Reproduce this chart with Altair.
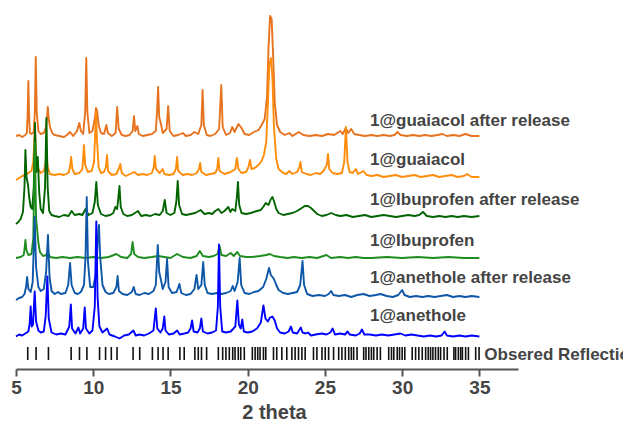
import altair as alt
import pandas as pd

# ---- trace names, colours and vertical offsets (intensity units) ----
TRACES = ["1@guaiacol after release", "1@guaiacol", "1@Ibuprofen after release",
          "1@Ibuprofen", "1@anethole after release", "1@anethole"]
COLORS = ["#E8731F", "#FF8C0A", "#006400", "#1E8C1E", "#0D56A8", "#0000FF"]
OFFSETS = [232, 192, 152, 111, 72, 32.5]

# ---- diffractograms: (2theta, intensity above own baseline) ----
GUAIACOL_AFTER = [
    (5.0,1),(5.2,2),(5.4,0),(5.6,2),(5.7,4),(5.75,20),(5.8,56),(5.85,20),(5.9,4),(6.0,3),(6.15,5),
    (6.22,25),(6.28,80),(6.34,25),(6.45,6),(6.6,3),(6.8,4),(6.95,10),(7.06,30),(7.12,18),(7.2,10),
    (7.35,4),(7.5,2),(7.8,1),(8.1,0),(8.3,2),(8.5,5),(8.7,1),(8.95,6),(9.1,14),(9.2,6),(9.35,3),
    (9.48,25),(9.55,79),(9.62,25),(9.75,4),(9.95,6),(10.1,18),(10.18,29),(10.25,26),(10.35,12),
    (10.5,4),(10.7,3),(10.85,12),(10.95,4),(11.2,1),(11.45,4),(11.55,30),(11.65,8),(11.85,2),
    (12.1,1),(12.35,2),(12.55,6),(12.64,21),(12.72,6),(12.86,11),(12.95,3),(13.2,1),(13.5,2),
    (13.8,3),(14.05,6),(14.13,25),(14.2,50),(14.27,20),(14.4,12),(14.5,4),(14.75,8),(14.85,31),
    (14.95,6),(15.2,1),(15.5,2),(15.8,4),(16.0,1),(16.3,2),(16.56,5),(16.8,3),(17.0,12),(17.08,47),
    (17.16,12),(17.35,2),(17.6,1),(17.9,3),(18.15,8),(18.29,52),(18.38,10),(18.6,2),(18.85,4),
    (19.0,10),(19.15,5),(19.4,13),(19.6,9),(19.8,3),(20.1,2),(20.4,5),(20.7,7),(20.9,12),(21.1,18),
    (21.25,40),(21.35,90),(21.45,121),(21.55,118),(21.65,80),(21.75,35),(21.9,12),(22.1,5),(22.4,2),
    (22.7,4),(22.9,1),(23.3,5),(23.6,2),(24.0,1),(24.4,2),(24.8,1),(25.2,3),(25.6,2),(25.9,5),
    (26.0,6),(26.15,3),(26.35,9),(26.5,4),(26.7,8),(26.9,3),(27.2,2),(27.6,1),(28.0,2),(28.4,1),
    (28.8,2),(29.2,1),(29.5,2),(29.7,5),(29.9,2),(30.3,1),(30.7,2),(31.1,1),(31.5,2),(31.9,1),
    (32.3,2),(32.6,3),(32.9,1),(33.3,2),(33.7,1),(34.1,3),(34.5,1),(35.0,1)]

GUAIACOL = [
    (5.0,-3),(5.2,-1),(5.4,1),(5.6,2),(5.8,4),(6.0,6),(6.12,15),(6.22,47),(6.3,20),(6.45,8),(6.6,4),
    (6.8,6),(6.9,12),(6.97,22),(7.05,10),(7.2,3),(7.5,2),(7.8,3),(8.1,2),(8.4,4),(8.5,10),(8.57,20),
    (8.65,8),(8.8,3),(9.1,4),(9.3,8),(9.4,32),(9.48,12),(9.65,5),(9.9,6),(10.05,15),(10.12,40),
    (10.18,65),(10.25,35),(10.35,10),(10.5,4),(10.7,5),(10.82,10),(10.89,22),(10.96,6),(11.2,2),
    (11.5,3),(11.7,10),(11.75,13),(11.85,4),(12.1,1),(12.4,3),(12.65,5),(12.9,2),(13.2,3),(13.5,2),
    (13.8,4),(13.92,10),(13.98,21),(14.06,8),(14.3,4),(14.5,8),(14.6,3),(14.9,2),(15.2,3),(15.35,8),
    (15.43,20),(15.5,6),(15.8,2),(16.1,3),(16.4,2),(16.7,4),(16.85,8),(16.92,14),(17.0,5),(17.3,2),
    (17.6,3),(17.9,4),(18.02,8),(18.1,19),(18.18,6),(18.5,3),(18.9,5),(19.2,8),(19.3,19),(19.4,8),
    (19.6,4),(19.9,5),(20.05,10),(20.15,17),(20.25,8),(20.45,9),(20.7,12),(20.9,16),(21.05,22),
    (21.2,35),(21.3,70),(21.4,112),(21.5,119),(21.6,100),(21.7,50),(21.85,18),(22.0,8),(22.3,4),
    (22.5,3),(22.7,6),(22.9,3),(23.2,5),(23.35,10),(23.42,15),(23.5,5),(23.8,3),(24.1,2),(24.4,4),
    (24.7,3),(24.9,6),(25.12,12),(25.2,23),(25.28,8),(25.5,4),(25.8,3),(26.1,4),(26.25,15),
    (26.36,50),(26.46,15),(26.6,5),(26.8,4),(27.0,8),(27.15,3),(27.5,6),(27.7,2),(28.0,1),(28.4,2),
    (28.8,0),(29.2,1),(29.6,2),(30.0,0),(30.4,1),(30.8,2),(31.2,0),(31.6,1),(32.0,2),(32.4,0),
    (32.8,1),(33.2,2),(33.6,0),(34.0,1),(34.2,3),(34.5,0),(35.0,0)]

IBUPROFEN_AFTER = [
    (5.0,-7),(5.15,-5),(5.3,-2),(5.45,5),(5.55,30),(5.61,67),(5.68,40),(5.78,32),(5.85,20),(5.95,10),
    (6.05,8),(6.15,30),(6.23,94),(6.31,45),(6.41,60),(6.5,25),(6.6,8),(6.75,4),(6.88,30),(6.97,99),
    (7.05,30),(7.15,6),(7.3,2),(7.5,1),(7.8,0),(8.1,2),(8.4,1),(8.6,6),(8.8,2),(9.1,3),(9.3,2),
    (9.5,8),(9.7,2),(9.95,4),(10.1,15),(10.2,35),(10.3,12),(10.5,3),(10.8,1),(11.1,2),(11.3,4),
    (11.43,10),(11.55,8),(11.63,20),(11.7,31),(11.78,10),(11.95,3),(12.2,1),(12.5,2),(12.9,6),
    (13.1,1),(13.4,2),(13.7,1),(14.0,3),(14.3,2),(14.5,6),(14.63,17),(14.75,4),(15.0,2),(15.25,4),
    (15.38,15),(15.47,36),(15.56,12),(15.75,3),(16.0,2),(16.3,3),(16.6,4),(16.95,7),(17.2,3),
    (17.5,4),(17.7,3),(17.9,6),(18.1,8),(18.3,4),(18.5,6),(18.75,10),(18.88,5),(19.0,8),(19.2,6),
    (19.3,20),(19.37,35),(19.45,12),(19.6,4),(19.9,3),(20.2,4),(20.6,6),(20.85,7),(21.0,10),
    (21.17,14),(21.35,12),(21.5,18),(21.6,20),(21.7,16),(21.85,8),(22.0,4),(22.3,2),(22.6,3),
    (22.9,4),(23.2,6),(23.5,9),(23.7,11),(23.9,11),(24.1,9),(24.3,6),(24.5,3),(24.8,1),(25.1,2),
    (25.4,4),(25.7,2),(26.0,1),(26.4,2),(26.8,0),(27.2,1),(27.6,2),(28.0,0),(28.4,1),(28.8,2),
    (29.2,1),(29.6,0),(30.0,1),(30.4,2),(30.8,1),(31.1,2),(31.35,5),(31.6,1),(32.0,0),(32.4,1),
    (32.8,0),(33.2,1),(33.6,0),(34.0,1),(34.5,0),(35.0,1)]

IBUPROFEN = [
    (5.0,0),(5.3,1),(5.5,3),(5.56,10),(5.61,18),(5.67,8),(5.8,3),(6.0,4),(6.12,20),(6.22,115),
    (6.3,40),(6.45,15),(6.55,6),(6.75,2),(6.95,3),(7.06,6),(7.2,1),(7.6,0),(8.0,1),(8.5,0),(9.0,1),
    (9.5,0),(10.0,1),(10.5,0),(11.0,1),(11.5,4),(11.8,1),(12.2,0),(12.45,4),(12.55,16),(12.65,4),
    (12.9,1),(13.3,0),(13.8,1),(14.2,2),(14.6,1),(15.0,0),(15.43,4),(15.8,1),(16.3,0),(16.7,2),
    (16.9,7),(17.1,2),(17.5,1),(17.8,2),(18.05,4),(18.18,12),(18.3,3),(18.6,2),(18.9,5),(19.1,2),
    (19.33,6),(19.5,2),(19.9,1),(20.3,1),(20.8,2),(21.2,3),(21.43,4),(21.7,2),(22.1,1),(22.6,0),
    (23.0,1),(23.5,0),(24.0,1),(24.5,0),(25.1,3),(25.4,0),(26.0,1),(26.5,0),(27.0,1),(27.5,0),
    (28.0,0),(29.0,1),(30.0,0),(31.0,1),(32.0,0),(33.0,1),(34.0,0),(35.0,0)]

ANETHOLE_AFTER = [
    (5.0,-3),(5.2,-1),(5.4,0),(5.55,3),(5.65,10),(5.72,20),(5.8,8),(5.95,5),(6.08,15),(6.21,80),
    (6.3,30),(6.45,10),(6.6,6),(6.8,8),(6.95,25),(7.07,62),(7.17,20),(7.3,6),(7.5,3),(7.73,5),
    (7.9,3),(8.2,4),(8.38,12),(8.5,34),(8.6,12),(8.8,4),(9.0,3),(9.2,5),(9.4,12),(9.5,40),(9.58,100),
    (9.66,35),(9.8,10),(10.0,10),(10.2,25),(10.3,60),(10.37,72),(10.45,40),(10.6,12),(10.8,5),
    (11.0,3),(11.3,4),(11.5,10),(11.58,21),(11.66,6),(11.9,3),(12.2,2),(12.5,5),(12.62,10),
    (12.75,3),(13.0,2),(13.3,4),(13.6,3),(13.9,6),(14.05,12),(14.18,52),(14.27,25),(14.4,16),
    (14.5,8),(14.68,15),(14.78,38),(14.88,10),(15.1,4),(15.4,5),(15.58,13),(15.7,4),(16.0,2),
    (16.3,3),(16.55,8),(16.69,22),(16.8,8),(17.0,12),(17.12,35),(17.22,12),(17.4,4),(17.7,3),
    (18.0,4),(18.3,3),(18.6,4),(18.9,6),(19.03,11),(19.15,6),(19.35,15),(19.48,39),(19.58,12),
    (19.8,4),(20.1,3),(20.4,5),(20.7,6),(21.0,10),(21.2,18),(21.38,29),(21.5,22),(21.7,18),
    (21.85,12),(22.0,7),(22.3,4),(22.6,3),(22.9,4),(23.2,5),(23.4,12),(23.55,36),(23.65,12),
    (23.85,3),(24.2,1),(24.6,2),(25.0,1),(25.25,3),(25.4,6),(25.55,2),(25.9,1),(26.3,2),(26.7,0),
    (27.1,2),(27.5,3),(27.9,1),(28.3,2),(28.6,3),(29.0,1),(29.4,0),(29.75,2),(30.0,7),(30.15,2),
    (30.5,0),(30.9,1),(31.3,0),(31.7,1),(32.1,0),(32.5,1),(32.9,2),(33.3,0),(33.7,1),(34.1,0),
    (34.5,1),(35.0,0)]

ANETHOLE = [
    (5.0,0),(5.2,2),(5.4,1),(5.6,3),(5.8,5),(5.88,12),(5.95,30),(6.02,10),(6.1,12),(6.21,45),
    (6.3,15),(6.45,6),(6.6,4),(6.8,5),(6.92,20),(7.03,60),(7.12,18),(7.3,4),(7.6,2),(7.9,3),(8.2,2),
    (8.45,10),(8.55,32),(8.63,8),(8.85,3),(9.04,9),(9.15,3),(9.35,8),(9.45,29),(9.53,8),(9.75,3),
    (9.95,6),(10.1,30),(10.2,115),(10.28,40),(10.4,10),(10.6,4),(10.9,8),(11.05,2),(11.4,0),
    (11.7,-2),(12.0,1),(12.3,2),(12.6,6),(12.75,1),(13.0,2),(13.3,1),(13.6,3),(13.9,6),(14.05,28),
    (14.15,8),(14.35,4),(14.5,8),(14.6,20),(14.68,6),(14.9,2),(15.2,3),(15.43,6),(15.6,2),(15.9,3),
    (16.15,4),(16.3,8),(16.4,16),(16.5,5),(16.75,4),(16.9,8),(17.0,18),(17.1,5),(17.4,3),(17.7,4),
    (17.95,6),(18.07,30),(18.14,92),(18.22,30),(18.35,5),(18.6,4),(18.9,5),(19.2,10),(19.33,36),
    (19.43,12),(19.55,8),(19.65,17),(19.75,5),(20.0,4),(20.3,5),(20.6,8),(20.85,14),(21.02,31),
    (21.15,18),(21.3,15),(21.45,19),(21.6,20),(21.75,16),(21.9,8),(22.1,4),(22.4,3),(22.65,5),
    (22.8,10),(22.92,4),(23.2,3),(23.44,9),(23.55,4),(23.75,3),(23.9,4),(24.1,1),(24.4,2),(24.8,3),
    (25.1,2),(25.35,4),(25.5,8),(25.65,2),(26.0,3),(26.3,2),(26.47,5),(26.6,2),(27.0,1),(27.25,3),
    (27.4,7),(27.55,2),(27.9,2),(28.3,1),(28.7,2),(29.1,1),(29.5,2),(29.9,3),(30.2,1),(30.6,2),
    (31.0,1),(31.4,0),(31.8,1),(32.2,0),(32.55,1),(32.75,5),(32.9,1),(33.3,0),(33.7,1),(34.1,0),
    (34.5,1),(35.0,0)]

SERIES = [GUAIACOL_AFTER, GUAIACOL, IBUPROFEN_AFTER, IBUPROFEN, ANETHOLE_AFTER, ANETHOLE]

# ---- observed reflection positions (2theta) ----
REFLECTIONS = [5.76, 6.30, 7.10, 8.57, 9.11, 9.59, 10.41, 10.80, 11.17, 11.54, 12.58, 13.01,
               13.83, 14.20, 14.52, 14.85, 15.61, 15.89, 16.58, 16.80, 17.01, 17.34, 18.10,
               18.38, 18.59, 18.81, 19.03, 19.18, 19.39, 19.55, 19.78, 20.30, 20.48, 20.65,
               20.80, 21.02, 21.17, 21.67, 21.88, 22.21, 22.53, 22.86, 23.07, 23.29, 23.51,
               23.72, 24.26, 24.48, 24.81, 25.02, 25.24, 25.56, 25.89, 26.10, 26.32, 26.54,
               26.71, 26.86, 27.08, 27.51, 27.66, 27.84, 28.01, 28.16, 28.38, 28.59, 29.13,
               29.31, 29.46, 29.68, 29.83, 30.00, 30.17, 30.65, 30.87, 31.08, 31.30, 31.52,
               31.69, 31.84, 31.99, 32.16, 32.34, 32.49, 32.71, 32.92, 33.35, 33.46, 33.64,
               33.79, 33.90, 34.11, 34.29, 34.76, 34.98]
REFL_LEVEL = 15.5
REFL_LABEL = "Obsered Reflections"

# ---- label anchors (data units) ----
LABEL_X = [27.92] * 6
LABEL_Y = [243, 204, 164, 123, 86, 48]
REFL_LABEL_X = 35.32
REFL_LABEL_Y = 9

# ---- tables ----
rows = []
for name, off, pts in zip(TRACES, OFFSETS, SERIES):
    for i, (tt, h) in enumerate(pts):
        rows.append({"trace": name, "tt": tt, "y": off + h, "i": i})
lines_df = pd.DataFrame(rows)
refl_df = pd.DataFrame({"tt": REFLECTIONS, "y": [REFL_LEVEL] * len(REFLECTIONS)})
labels_df = pd.DataFrame({"tt": LABEL_X + [REFL_LABEL_X],
                          "y": LABEL_Y + [REFL_LABEL_Y],
                          "text": TRACES + [REFL_LABEL]})

FONT = "Liberation Sans"
TXT = "#444444"

xscale = alt.Scale(domain=[5, 37.5], nice=False, zero=False)
yscale = alt.Scale(domain=[0, 369], nice=False, zero=False)

xaxis = alt.Axis(
    values=[5, 7.5, 10, 12.5, 15, 17.5, 20, 22.5, 25, 27.5, 30, 32.5, 35, 37.5],
    labelExpr="datum.value % 5 === 0 ? datum.label : ''",
    format="d", grid=False, domainColor="#555555", domainWidth=2,
    tickColor="#555555", tickWidth=2,
    tickSize={"condition": {"test": "datum.value % 5 === 0", "value": 7}, "value": 3},
    labelFont=FONT, labelFontSize=19, labelFontWeight="bold", labelColor=TXT,
    labelPadding=2, labelFlush=False,
    title="2 theta", titleFont=FONT, titleFontSize=20, titleFontWeight="bold",
    titleColor=TXT, titleX=258, titleY=49, titleAlign="center",
    titleBaseline="alphabetic", titleAnchor="middle",
)

lines = alt.Chart(lines_df).mark_line(strokeWidth=1.9, strokeJoin="round").encode(
    x=alt.X("tt:Q", scale=xscale, axis=xaxis),
    y=alt.Y("y:Q", scale=yscale, axis=None),
    color=alt.Color("trace:N", scale=alt.Scale(domain=TRACES, range=COLORS), legend=None),
    order="i:Q",
)

ticks = alt.Chart(refl_df).mark_tick(orient="vertical", size=13, thickness=1.6,
                                     color="#111111", opacity=1).encode(
    x=alt.X("tt:Q", scale=xscale),
    y=alt.Y("y:Q", scale=yscale),
)

labels = alt.Chart(labels_df).mark_text(align="left", baseline="alphabetic", font=FONT,
                                        fontSize=17, fontWeight="bold", color=TXT).encode(
    x=alt.X("tt:Q", scale=xscale),
    y=alt.Y("y:Q", scale=yscale),
    text="text:N",
)

chart = alt.layer(lines, ticks, labels).properties(
    width=502, height=369,
    autosize=alt.AutoSizeParams(type="none"),
    padding={"left": 16, "top": 0, "right": 105, "bottom": 52},
).configure(background="white").configure_view(stroke=None)

chart.save("out.html", embed_options={"renderer": "svg", "actions": False})
